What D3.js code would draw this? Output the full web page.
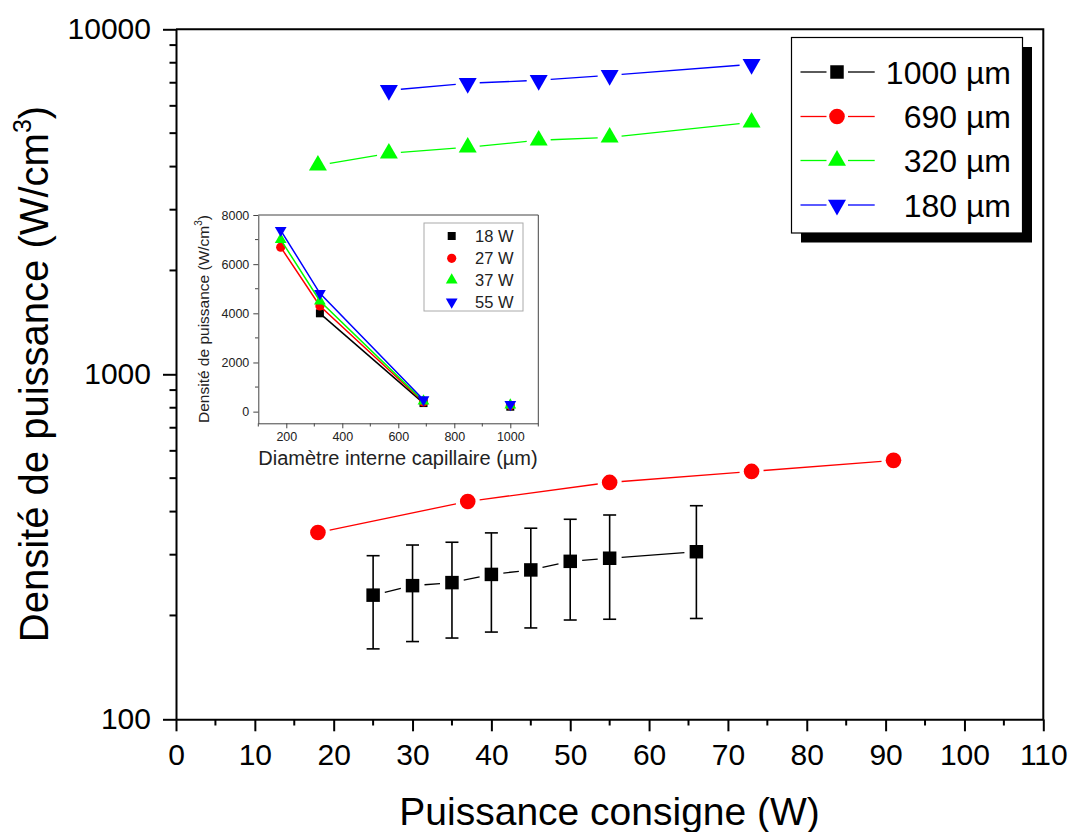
<!DOCTYPE html>
<html>
<head>
<meta charset="utf-8">
<script src="https://cdn.jsdelivr.net/npm/d3@7"></script>
<style>
    body { margin: 0; background: #fff; }
    text { font-family: "Liberation Sans", Arial, sans-serif; }
</style>
</head>
<body>
<svg id="chart" width="1073" height="832"></svg>
<script>
'use strict';

// main chart data (power set point in W, power density in W/cm3)
var power1000 = [25, 30, 35, 40, 45, 50, 55, 66];
var dens1000 = [229, 244, 249, 263, 271, 287, 293, 306];
var err1000 = [69, 76, 77, 84, 87, 93, 98, 110];
var power690 = [18, 37, 55, 73, 91];
var dens690 = [348, 428, 486, 523, 563];
var power320 = [18, 27, 37, 46, 55, 73];
var dens320 = [4035, 4372, 4550, 4768, 4864, 5375];
var power180 = [27, 37, 46, 55, 73];
var dens180 = [6656, 6975, 7117, 7357, 7916];
var seriesNames = ['1000 \u00b5m', '690 \u00b5m', '320 \u00b5m', '180 \u00b5m'];
var xTicks = [0, 10, 20, 30, 40, 50, 60, 70, 80, 90, 100, 110];
var yTicks = [100, 1000, 10000];

// inset data (capillary diameter in um)
var diameters = [180, 320, 690];
var inset18 = [null, 4000, 348];
var inset27 = [6690, 4297, 390];
var inset37 = [7000, 4500, 428];
var inset55 = [7377, 4813, 486];
var lastDiameter = 1000;
var insetAt1000 = [200, 244, 263, 293];
var insetNames = ['18 W', '27 W', '37 W', '55 W'];
var insetXTicks = [200, 400, 600, 800, 1000];
var insetYTicks = [0, 2000, 4000, 6000, 8000];

var svg = d3.select('#chart');

var x = d3.scaleLinear().domain([0, 110]).range([176, 1043.3]);
var y = d3.scaleLog().domain([100, 10000]).range([719.3, 29.3]);

var colors = ['#000000', '#ff0000', '#00ff00', '#0000ff'];
var shapes = [
    { type: d3.symbolSquare, size: 182, rot: 0 },
    { type: d3.symbolCircle, size: 191, rot: 0 },
    { type: d3.symbolTriangle, size: 140, rot: 0 },
    { type: d3.symbolTriangle, size: 140, rot: 180 }
];

// ---- axes ----
var xAxis = svg.append('g')
    .attr('transform', 'translate(0,719.3)')
    .call(d3.axisBottom(x).tickValues(xTicks).tickSize(12).tickPadding(12).tickSizeOuter(0));

var yAxis = svg.append('g')
    .attr('transform', 'translate(176,0)')
    .call(d3.axisLeft(y).tickValues(yTicks).tickFormat(d3.format('d'))
        .tickSize(13).tickPadding(12).tickSizeOuter(0));

[xAxis, yAxis].forEach(function (ax) {
    ax.select('.domain').attr('stroke-width', 2);
    ax.selectAll('.tick line').attr('stroke-width', 2);
    ax.selectAll('.tick text').attr('font-size', 30).attr('fill', '#000');
});

// minor ticks
svg.append('g').selectAll('line')
    .data(d3.range(5, 110, 10))
    .enter().append('line')
    .attr('x1', function (d) { return x(d); })
    .attr('x2', function (d) { return x(d); })
    .attr('y1', 719.3).attr('y2', 725.5)
    .attr('stroke', '#000').attr('stroke-width', 2);

var yMinor = [];
[100, 1000].forEach(function (dec) {
    for (var k = 2; k <= 9; k++) yMinor.push(dec * k);
});
svg.append('g').selectAll('line')
    .data(yMinor)
    .enter().append('line')
    .attr('y1', function (d) { return y(d); })
    .attr('y2', function (d) { return y(d); })
    .attr('x1', 169.5).attr('x2', 176)
    .attr('stroke', '#000').attr('stroke-width', 2);

// frame top + right
svg.append('path')
    .attr('d', 'M176,29.3H1043.3V719.3')
    .attr('fill', 'none').attr('stroke', '#000').attr('stroke-width', 2);

// axis titles
var yTitle = svg.append('text')
    .attr('transform', 'translate(48,374) rotate(-90)')
    .attr('text-anchor', 'middle')
    .attr('font-size', 40);
yTitle.append('tspan').text('Densit\u00e9 de puissance (W/cm');
yTitle.append('tspan').attr('font-size', 25).attr('dy', -17).text('3');
yTitle.append('tspan').attr('dy', 17).text(')');

svg.append('text')
    .attr('x', 609.6).attr('y', 825)
    .attr('text-anchor', 'middle')
    .attr('font-size', 39)
    .text('Puissance consigne (W)');

// ---- main series ----
function gapSegments(pts, gap) {
    var segs = [];
    for (var i = 0; i < pts.length - 1; i++) {
        var a = pts[i], b = pts[i + 1];
        var dx = b[0] - a[0], dy = b[1] - a[1];
        var len = Math.sqrt(dx * dx + dy * dy);
        if (len <= 2 * gap) continue;
        var ux = dx / len, uy = dy / len;
        segs.push([a[0] + ux * gap, a[1] + uy * gap, b[0] - ux * gap, b[1] - uy * gap]);
    }
    return segs;
}

function symbolPath(i) {
    return d3.symbol().type(shapes[i].type).size(shapes[i].size)();
}

var mainSeries = [
    { xs: power1000, ys: dens1000 },
    { xs: power690, ys: dens690 },
    { xs: power320, ys: dens320 },
    { xs: power180, ys: dens180 }
];

// error bars of the 1000 um series
var eb = svg.append('g').attr('stroke', '#000').attr('stroke-width', 1.6);
power1000.forEach(function (p, i) {
    var cx = x(p);
    var top = y(dens1000[i] + err1000[i]);
    var bot = y(dens1000[i] - err1000[i]);
    eb.append('line').attr('x1', cx).attr('x2', cx).attr('y1', top).attr('y2', bot);
    eb.append('line').attr('x1', cx - 6.5).attr('x2', cx + 6.5).attr('y1', top).attr('y2', top);
    eb.append('line').attr('x1', cx - 6.5).attr('x2', cx + 6.5).attr('y1', bot).attr('y2', bot);
});

mainSeries.forEach(function (s, si) {
    var pts = s.xs.map(function (p, i) { return [x(p), y(s.ys[i])]; });
    var g = svg.append('g');
    g.selectAll('line')
        .data(gapSegments(pts, 12))
        .enter().append('line')
        .attr('x1', function (d) { return d[0]; })
        .attr('y1', function (d) { return d[1]; })
        .attr('x2', function (d) { return d[2]; })
        .attr('y2', function (d) { return d[3]; })
        .attr('stroke', colors[si]).attr('stroke-width', 1.3);
    g.selectAll('path')
        .data(pts)
        .enter().append('path')
        .attr('d', symbolPath(si))
        .attr('transform', function (d) {
            return 'translate(' + d[0] + ',' + d[1] + ') rotate(' + shapes[si].rot + ')';
        })
        .attr('fill', colors[si]);
});

// ---- legend ----
var legend = svg.append('g');
legend.append('rect')
    .attr('x', 801).attr('y', 47).attr('width', 231).attr('height', 195.5)
    .attr('fill', '#000');
legend.append('rect')
    .attr('x', 791.5).attr('y', 37.5).attr('width', 231).attr('height', 195.5)
    .attr('fill', '#fff').attr('stroke', '#000').attr('stroke-width', 1.2);

var legendY = [72, 116.5, 160.5, 205];
seriesNames.forEach(function (name, i) {
    var ly = legendY[i];
    legend.append('line').attr('x1', 800.5).attr('x2', 826.5).attr('y1', ly).attr('y2', ly)
        .attr('stroke', colors[i]).attr('stroke-width', 1.3);
    legend.append('line').attr('x1', 848).attr('x2', 874.7).attr('y1', ly).attr('y2', ly)
        .attr('stroke', colors[i]).attr('stroke-width', 1.3);
    legend.append('path')
        .attr('d', symbolPath(i))
        .attr('transform', 'translate(837,' + ly + ') rotate(' + shapes[i].rot + ')')
        .attr('fill', colors[i]);
    legend.append('text')
        .attr('x', 1011).attr('y', ly + 11.5)
        .attr('text-anchor', 'end')
        .attr('font-size', 32)
        .text(name);
});

// ---- inset ----
var ix = d3.scaleLinear().domain([100, 1100]).range([258.3, 538.3]);
var iy = d3.scaleLinear().domain([-475, 8000]).range([423.3, 215]);
var inset = svg.append('g');

var ixAxis = inset.append('g')
    .attr('transform', 'translate(0,423.3)')
    .call(d3.axisBottom(ix).tickValues(insetXTicks).tickFormat(d3.format('d'))
        .tickSize(5).tickPadding(4).tickSizeOuter(0));
var iyAxis = inset.append('g')
    .attr('transform', 'translate(258.3,0)')
    .call(d3.axisLeft(iy).tickValues(insetYTicks).tickFormat(d3.format('d'))
        .tickSize(5).tickPadding(4).tickSizeOuter(0));
[ixAxis, iyAxis].forEach(function (ax) {
    ax.selectAll('.domain, .tick line').attr('stroke', '#444');
    ax.selectAll('.tick text').attr('font-size', 12.5).attr('fill', '#222');
});

inset.append('g').selectAll('line')
    .data([100, 300, 500, 700, 900, 1100])
    .enter().append('line')
    .attr('x1', function (d) { return ix(d); })
    .attr('x2', function (d) { return ix(d); })
    .attr('y1', 423.3).attr('y2', 426.5)
    .attr('stroke', '#444');
inset.append('g').selectAll('line')
    .data([1000, 3000, 5000, 7000])
    .enter().append('line')
    .attr('y1', function (d) { return iy(d); })
    .attr('y2', function (d) { return iy(d); })
    .attr('x1', 255).attr('x2', 258.3)
    .attr('stroke', '#444');

inset.append('path')
    .attr('d', 'M258.3,215H538.3V423.3')
    .attr('fill', 'none').attr('stroke', '#444');

var iyTitle = inset.append('text')
    .attr('transform', 'translate(209,319) rotate(-90)')
    .attr('text-anchor', 'middle')
    .attr('font-size', 15.5)
    .attr('fill', '#222');
iyTitle.append('tspan').text('Densit\u00e9 de puissance (W/cm');
iyTitle.append('tspan').attr('font-size', 10).attr('dy', -7).text('3');
iyTitle.append('tspan').attr('dy', 7).text(')');

inset.append('text')
    .attr('x', 398).attr('y', 465)
    .attr('text-anchor', 'middle')
    .attr('font-size', 20)
    .attr('fill', '#222')
    .text('Diam\u00e8tre interne capillaire (\u00b5m)');

var insetSeries = [inset18, inset27, inset37, inset55];
var insetShapes = [
    { type: d3.symbolSquare, size: 64, rot: 0 },
    { type: d3.symbolCircle, size: 66, rot: 0 },
    { type: d3.symbolTriangle, size: 60, rot: 0 },
    { type: d3.symbolTriangle, size: 60, rot: 180 }
];

function insetSymbol(i) {
    return d3.symbol().type(insetShapes[i].type).size(insetShapes[i].size)();
}

var insetLine = d3.line()
    .defined(function (d) { return d[1] !== null; })
    .x(function (d) { return ix(d[0]); })
    .y(function (d) { return iy(d[1]); });

insetSeries.forEach(function (vals, si) {
    var pts = diameters.map(function (dm, i) { return [dm, vals[i]]; });
    pts.push([lastDiameter, insetAt1000[si]]);
    var g = inset.append('g');
    g.append('path')
        .attr('d', insetLine(pts.slice(0, diameters.length)))
        .attr('fill', 'none')
        .attr('stroke', colors[si]).attr('stroke-width', 1.5);
    g.selectAll('path.mk')
        .data(pts.filter(function (d) { return d[1] !== null; }))
        .enter().append('path')
        .attr('class', 'mk')
        .attr('d', insetSymbol(si))
        .attr('transform', function (d) {
            return 'translate(' + ix(d[0]) + ',' + iy(d[1]) + ') rotate(' + insetShapes[si].rot + ')';
        })
        .attr('fill', colors[si]);
});

// inset legend
inset.append('rect')
    .attr('x', 424).attr('y', 223).attr('width', 99).attr('height', 88)
    .attr('fill', '#fff').attr('stroke', '#aaa');
var insetLegendY = [236, 258.3, 280, 302];
insetNames.forEach(function (name, i) {
    inset.append('path')
        .attr('d', insetSymbol(i))
        .attr('transform', 'translate(451.7,' + insetLegendY[i] + ') rotate(' + insetShapes[i].rot + ')')
        .attr('fill', colors[i]);
    inset.append('text')
        .attr('x', 475).attr('y', insetLegendY[i] + 6)
        .attr('font-size', 16.5)
        .attr('fill', '#222')
        .text(name);
});
</script>
</body>
</html>
